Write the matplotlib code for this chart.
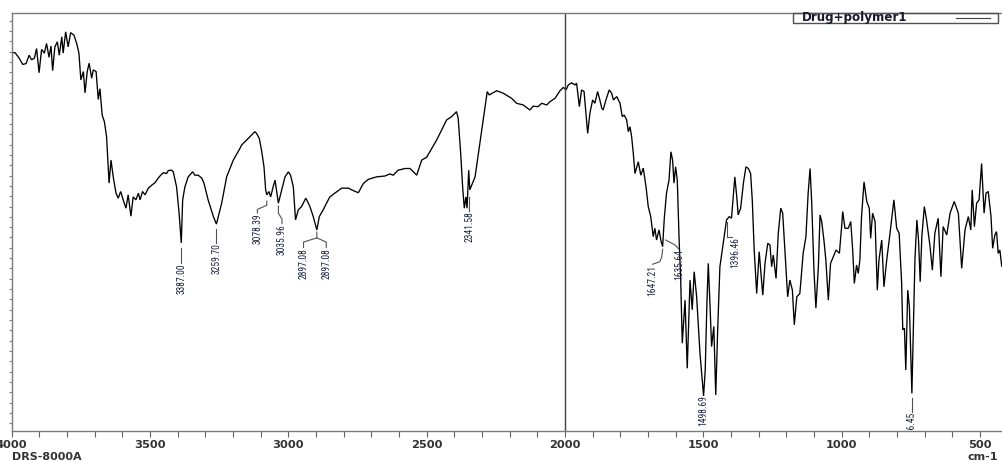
import matplotlib
matplotlib.use('Agg')
import matplotlib.pyplot as plt
from matplotlib import font_manager as fm
from matplotlib.ticker import MultipleLocator, FixedLocator
from matplotlib.patches import Rectangle
from matplotlib.lines import Line2D
import numpy as np

# ---------------- data (wavenumber in cm-1, transmittance in %T) ----------------
wavenumber = [
    4000, 3988, 3976, 3960, 3948, 3937, 3928, 3918, 3910, 3901,
    3892, 3882, 3874, 3865, 3858, 3852, 3844, 3835, 3828, 3819,
    3814, 3805, 3796, 3787, 3775, 3765, 3757, 3750, 3741, 3735,
    3727, 3720, 3711, 3705, 3695, 3687, 3681, 3673, 3665, 3657,
    3648, 3641, 3633, 3623, 3615, 3606, 3597, 3587, 3579, 3569,
    3561, 3551, 3542, 3536, 3527, 3518, 3506, 3494, 3482, 3467,
    3452, 3440, 3434, 3422, 3416, 3404, 3395, 3387, 3382, 3374,
    3362, 3346, 3338, 3326, 3313, 3305, 3290, 3271, 3260, 3241,
    3223, 3199, 3175, 3169, 3151, 3133, 3121, 3115, 3105, 3097,
    3088, 3082, 3078, 3070, 3064, 3055, 3048, 3042, 3036, 3024,
    3012, 3000, 2992, 2982, 2974, 2964, 2952, 2937, 2932, 2922,
    2910, 2897, 2888, 2874, 2862, 2850, 2832, 2807, 2783, 2765,
    2747, 2729, 2711, 2681, 2651, 2633, 2621, 2603, 2578, 2560,
    2536, 2518, 2500, 2464, 2428, 2410, 2392, 2386, 2377, 2370,
    2364, 2358, 2354, 2348, 2344, 2334, 2325, 2313, 2301, 2289,
    2281, 2274, 2247, 2223, 2193, 2175, 2151, 2127, 2115, 2097,
    2084, 2066, 2054, 2036, 2024, 2018, 2006, 1996, 1988, 1976,
    1964, 1958, 1948, 1940, 1931, 1918, 1910, 1900, 1892, 1882,
    1874, 1867, 1862, 1852, 1840, 1831, 1825, 1813, 1801, 1793,
    1786, 1777, 1771, 1765, 1759, 1753, 1747, 1735, 1726, 1717,
    1707, 1699, 1690, 1681, 1675, 1669, 1660, 1653, 1647, 1641,
    1633, 1624, 1617, 1611, 1606, 1600, 1594, 1587, 1582, 1576,
    1566, 1558, 1548, 1540, 1533, 1524, 1512, 1499, 1493, 1487,
    1482, 1476, 1470, 1462, 1455, 1448, 1440, 1428, 1416, 1406,
    1398, 1389, 1386, 1379, 1374, 1365, 1355, 1346, 1337, 1329,
    1323, 1316, 1307, 1298, 1285, 1277, 1267, 1259, 1253, 1247,
    1237, 1229, 1220, 1213, 1205, 1195, 1187, 1178, 1171, 1162,
    1151, 1139, 1129, 1121, 1114, 1108, 1100, 1093, 1084, 1078,
    1072, 1064, 1057, 1048, 1040, 1030, 1020, 1008, 1000, 996,
    988, 976, 967, 960, 954, 946, 940, 934, 928, 919,
    909, 900, 895, 888, 879, 871, 865, 855, 847, 837,
    825, 811, 801, 792, 783, 779, 773, 768, 761, 755,
    746, 740, 735, 728, 722, 716, 710, 701, 693, 681,
    672, 663, 651, 641, 633, 620, 608, 593, 578, 566,
    554, 542, 533, 528, 520, 512, 503, 494, 485, 478,
    470, 460, 454, 446, 440, 434, 428, 421, 409,
]
transmittance = [
    90.5, 90.5, 89.5, 87.7, 87.9, 89.9, 88.8, 89.2, 91.5, 85.7,
    91.3, 90.4, 92.7, 89.4, 92.1, 86.2, 91.9, 93.1, 89.9, 94.3,
    90.4, 95.5, 91.9, 95.3, 94.7, 92.7, 90.4, 84.0, 86.0, 80.9,
    86.0, 88.0, 84.4, 86.4, 86.0, 79.3, 81.9, 75.6, 74.0, 70.4,
    59.3, 64.8, 60.8, 56.9, 55.7, 57.3, 55.3, 53.3, 56.5, 51.4,
    56.0, 55.3, 56.9, 55.3, 57.3, 56.5, 58.1, 58.8, 59.4, 60.8,
    61.8, 61.6, 62.3, 62.4, 62.0, 58.4, 52.2, 45.0, 55.3, 58.4,
    60.8, 62.0, 61.2, 61.2, 60.5, 59.3, 55.3, 51.3, 49.5, 54.5,
    60.8, 64.8, 67.6, 68.4, 69.6, 70.8, 71.6, 71.2, 70.0, 67.2,
    63.2, 57.7, 56.5, 57.3, 56.0, 58.4, 60.0, 57.3, 54.5, 57.7,
    60.8, 62.0, 61.2, 58.4, 50.5, 52.9, 53.7, 55.7, 55.1, 53.7,
    51.3, 48.1, 51.3, 52.9, 54.5, 56.0, 56.9, 58.1, 58.1, 57.5,
    57.0, 59.2, 60.2, 60.8, 61.0, 61.5, 61.2, 62.4, 62.8, 62.8,
    61.2, 64.8, 65.5, 69.6, 74.4, 75.2, 76.4, 74.8, 66.4, 58.4,
    53.3, 56.0, 53.3, 62.4, 57.7, 59.3, 60.8, 66.4, 72.0, 77.6,
    81.2, 80.4, 81.4, 80.8, 79.6, 78.4, 78.0, 76.8, 77.7, 77.6,
    78.4, 78.0, 78.8, 79.6, 80.8, 81.4, 82.2, 81.6, 82.8, 83.3,
    82.8, 83.2, 77.6, 81.6, 81.2, 71.2, 76.0, 79.2, 78.4, 81.2,
    79.2, 77.2, 76.8, 79.2, 81.6, 80.8, 79.2, 80.0, 78.4, 75.2,
    75.6, 74.4, 71.6, 72.8, 70.4, 66.4, 61.6, 64.4, 61.2, 62.9,
    58.4, 53.7, 51.3, 46.5, 48.5, 45.7, 48.1, 45.5, 44.1, 50.9,
    56.9, 60.0, 66.8, 64.8, 59.3, 63.2, 60.0, 44.9, 36.9, 21.0,
    31.3, 15.0, 36.1, 29.0, 38.1, 32.1, 18.6, 8.4, 14.6, 30.5,
    40.1, 30.5, 20.2, 25.0, 8.6, 24.2, 39.3, 44.9, 50.5, 51.3,
    50.9, 58.4, 60.8, 56.0, 51.7, 53.3, 59.3, 63.2, 62.8, 61.6,
    55.3, 43.3, 32.9, 42.9, 32.5, 40.1, 44.9, 44.5, 39.3, 42.1,
    36.5, 47.3, 53.3, 52.1, 43.3, 32.1, 36.1, 33.7, 25.4, 32.1,
    32.9, 42.5, 46.5, 56.9, 62.8, 54.5, 38.5, 29.4, 39.3, 51.7,
    50.1, 45.7, 40.9, 31.3, 40.1, 41.7, 43.3, 42.5, 48.9, 52.5,
    48.5, 48.5, 50.1, 43.3, 35.3, 39.7, 37.7, 40.9, 51.3, 59.6,
    54.9, 53.3, 46.1, 52.1, 50.1, 33.7, 40.9, 45.7, 34.5, 40.9,
    47.3, 55.3, 48.5, 47.3, 35.3, 24.2, 24.6, 14.6, 33.7, 29.7,
    9.0, 25.8, 40.9, 50.5, 45.7, 35.7, 46.5, 53.7, 50.5, 44.5,
    38.5, 47.3, 50.9, 36.9, 48.9, 46.9, 52.1, 54.9, 52.1, 38.9,
    48.1, 51.3, 48.1, 57.7, 48.9, 54.5, 55.3, 64.0, 52.1, 56.9,
    57.3, 51.3, 43.7, 46.9, 47.7, 42.5, 43.3, 39.3, 40.4,
]
assert len(wavenumber) == len(transmittance)

series_name = 'Drug+polymer1'
xtick_values = [4000, 3500, 3000, 2500, 2000, 1500, 1000, 500]
instrument_name = 'DRS-8000A'
x_unit = 'cm-1'

# peak labels: text, label x (cm-1), top of label (%T), leader path
peak_labels = ['3387.00', '3259.70', '3078.39', '3035.96', '2897.08', '2897.08',
               '2341.58', '1647.21', '1635.64', '1498.69', '1396.46', '746.45']
peak_text_x = [3387, 3260, 3112, 3023, 2945, 2863, 2346, 1683, 1588, 1499, 1385, 746]
peak_text_top = [40.2, 45.0, 52.1, 49.5, 43.8, 43.8, 52.6, 39.7, 43.5, 8.6, 46.4, 4.5]
leader_paths = [
    [(3387, 43.8), (3387, 40.2)],
    [(3260, 48.3), (3260, 45.0)],
    [(3078, 55.0), (3078, 54.0), (3112, 53.0), (3112, 52.2)],
    [(3036, 53.8), (3036, 52.1), (3023, 50.7), (3023, 49.6)],
    [(2945, 43.9), (2945, 45.2), (2897, 46.2), (2897, 47.6)],
    [(2863, 43.9), (2863, 45.2), (2897, 46.2)],
    [(2346, 56.0), (2346, 52.7)],
    [(1647, 43.5), (1650, 41.7), (1657, 40.5), (1683, 39.9)],
    [(1636, 45.7), (1602, 44.5), (1590, 43.6)],
    [],
    [(1415, 50.1), (1415, 46.3), (1397, 46.3)],
    [(746, 7.9), (746, 4.6)],
]

# ---------------- fonts ----------------
installed = {f.name for f in fm.fontManager.ttflist}
narrow = next((n for n in ['Liberation Sans Narrow', 'DejaVu Sans Condensed', 'Roboto Condensed']
               if n in installed), 'Liberation Sans')

W, H = 1002, 461
fig = plt.figure(figsize=(W / 100, H / 100), dpi=100)
ax = fig.add_axes([11.7 / W, 1 - 431 / H, (1007.6 - 11.7) / W, 418 / H])

ax.plot(wavenumber, transmittance, color='black', lw=0.95, solid_joinstyle='miter')
ax.set_xlim(4000, 400)
ax.set_ylim(0, 100)
ax.axvline(2000, color='#404040', lw=1.0)

for s in ax.spines.values():
    s.set_color('#7a7a7a')
    s.set_linewidth(1.0)

ax.xaxis.set_major_locator(FixedLocator(xtick_values))
ax.xaxis.set_minor_locator(MultipleLocator(100))
ax.tick_params(axis='x', which='both', direction='out', length=4.5, width=0.8,
               color='#606060', labelsize=8.2, pad=2.0, labelcolor='#333333')
for lab in ax.get_xticklabels():
    lab.set_fontweight('bold')
ax.yaxis.set_major_locator(FixedLocator(np.linspace(1.85, 98.15, 40)))
ax.tick_params(axis='y', direction='out', length=2.5, width=0.8, color='#808080',
               labelleft=False)

# peak annotations
for txt, tx, ty, path in zip(peak_labels, peak_text_x, peak_text_top, leader_paths):
    if path:
        xs, ys = zip(*path)
        ax.plot(xs, ys, color='#505050', lw=0.8)
    ax.text(tx, ty, txt, rotation=90, ha='center', va='top', fontsize=6.9,
            family=[narrow, 'DejaVu Sans'], color='#1c2440', clip_on=True)

# legend box (text first, then line sample)
lx0, lx1 = 793 / W, 998 / W
ly0, ly1 = 1 - 22.7 / H, 1 - 13 / H
fig.add_artist(Rectangle((lx0, ly0), lx1 - lx0, ly1 - ly0, transform=fig.transFigure,
                         fill=False, edgecolor='#505050', lw=1.0))
fig.text(802 / W, 1 - 18.0 / H, series_name, fontsize=8.6, ha='left', va='center',
         color='#1a1a2e', fontweight='bold')
fig.add_artist(Line2D([956 / W, 990 / W], [1 - 17.7 / H] * 2, transform=fig.transFigure,
                      color='#404040', lw=0.8))

fig.text(12 / W, 1 - 456.5 / H, instrument_name, fontsize=8.0, ha='left', va='center',
         color='#333333', fontweight='bold')
fig.text(967 / W, 1 - 456.5 / H, x_unit, fontsize=8.0, ha='left', va='center',
         color='#333333', fontweight='bold')

fig.savefig('out.png', dpi=100)
